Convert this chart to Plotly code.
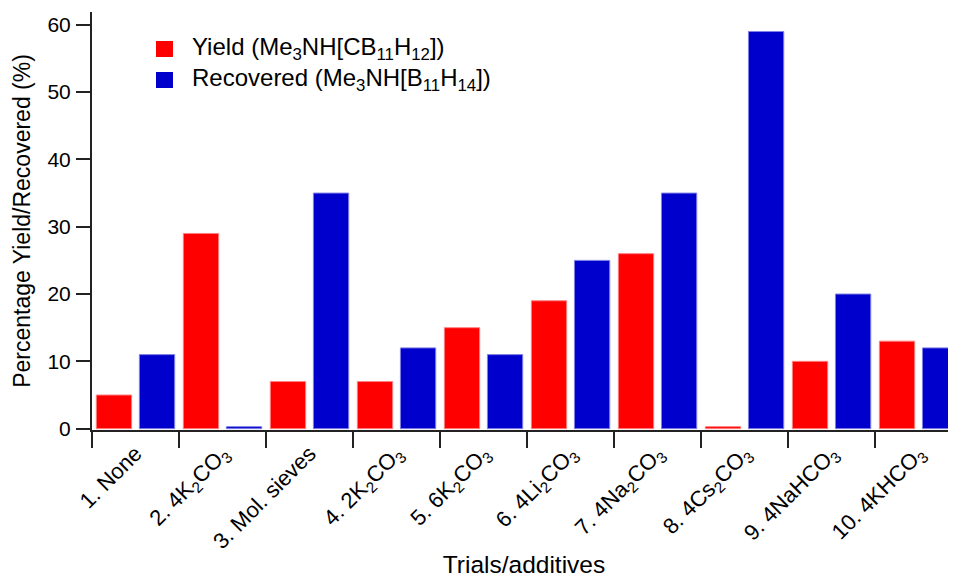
import plotly.graph_objects as go

categories = [
    "1. None",
    "2. 4K<sub>2</sub>CO<sub>3</sub>",
    "3. Mol. sieves",
    "4. 2K<sub>2</sub>CO<sub>3</sub>",
    "5. 6K<sub>2</sub>CO<sub>3</sub>",
    "6. 4Li<sub>2</sub>CO<sub>3</sub>",
    "7. 4Na<sub>2</sub>CO<sub>3</sub>",
    "8. 4Cs<sub>2</sub>CO<sub>3</sub>",
    "9. 4NaHCO<sub>3</sub>",
    "10. 4KHCO<sub>3</sub>",
]
yield_vals = [5, 29, 7, 7, 15, 19, 26, 0.3, 10, 13]
recovered_vals = [11, 0.3, 35, 12, 11, 25, 35, 59, 20, 12]
yield_name = "Yield (Me<sub>3</sub>NH[CB<sub>11</sub>H<sub>12</sub>])"
recovered_name = "Recovered (Me<sub>3</sub>NH[B<sub>11</sub>H<sub>14</sub>])"

FONT = "Liberation Sans, Arial, sans-serif"
RED = "#FF0000"
BLUE = "#0000CC"

W, H = 948, 570
ML, MR, MT, MB = 84, 0, 4, 148
PW, PH = W - ML - MR, H - MT - MB


def px_x(p):
    return (p - ML) / PW


def px_y(p):
    return 1 - (p - MT) / PH


fig = go.Figure()
fig.add_trace(go.Bar(x=categories, y=yield_vals, name=yield_name, showlegend=False,
                     marker=dict(color=RED, line=dict(color="#FF8080", width=1))))
fig.add_trace(go.Bar(x=categories, y=recovered_vals, name=recovered_name, showlegend=False,
                     marker=dict(color=BLUE, line=dict(color="#8080E6", width=1))))

# legend drawn as squares + labels (pixel positions in figure coordinates)
legend_items = [(yield_name, RED, 33), (recovered_name, BLUE, 64)]
for name, color, top in legend_items:
    fig.add_shape(type="rect", xref="paper", yref="paper",
                  x0=px_x(148), x1=px_x(165), y0=px_y(top + 16), y1=px_y(top),
                  fillcolor=color, line=dict(width=0))
    fig.add_annotation(xref="paper", yref="paper", x=px_x(182), y=px_y(top + 8),
                       xanchor="left", yanchor="middle", showarrow=False,
                       text=name, font=dict(size=24, family=FONT, color="black"))

fig.update_layout(
    width=W, height=H,
    margin=dict(l=ML, r=MR, t=MT, b=MB),
    plot_bgcolor="white", paper_bgcolor="white",
    barmode="group", bargap=0.01, bargroupgap=0.18,
    font=dict(family=FONT, size=20, color="black"),
    showlegend=False,
    xaxis=dict(
        type="category", range=[-0.5, 9.43],
        tickson="boundaries", ticks="outside", ticklen=16, tickwidth=2, tickcolor="#222",
        showline=True, linewidth=2, linecolor="#222",
        tickangle=-45, tickfont=dict(size=22),
        showgrid=False, automargin=False,
        title=dict(text="Trials/additives", font=dict(size=24.5), standoff=29),
    ),
    yaxis=dict(
        range=[-0.2, 61.9], dtick=10, tick0=0,
        ticks="outside", ticklen=14, tickwidth=2, tickcolor="#222",
        showline=True, linewidth=2, linecolor="#222",
        showgrid=False, zeroline=False, automargin=False,
        tickfont=dict(size=21), ticklabelstandoff=1,
        title=dict(text="Percentage Yield/Recovered (%)", font=dict(size=23), standoff=10),
    ),
)

fig.write_html("out.html")
